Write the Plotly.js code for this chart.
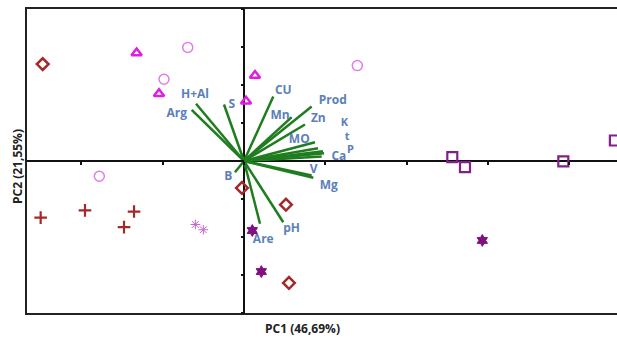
<!DOCTYPE html>
<html>
<head>
<meta charset="utf-8">
<script src="https://cdn.plot.ly/plotly-3.0.1.min.js"></script>
<style>html,body{margin:0;padding:0;background:#fff;}#chart{width:617px;height:341px;}</style>
</head>
<body>
<div id="chart"></div>
<script>
// ---- Data (PC1, PC2 scores) ----
const diamondX = [-2.475, -0.025, 0.516, 0.553];
const diamondY = [2.55, -0.71, -1.15, -3.21];
const triangleX = [-1.32, -1.045, 0.135, 0.025];
const triangleY = [2.84, 1.77, 2.25, 1.57];
const circleX = [-0.692, -0.984, 1.393, -1.779];
const circleY = [2.99, 2.15, 2.51, -0.40];
const plusX = [-2.50, -1.955, -1.352, -1.475];
const plusY = [-1.49, -1.30, -1.33, -1.74];
const asteriskX = [-0.598, -0.50];
const asteriskY = [-1.67, -1.81];
const starX = [0.102, 0.213, 2.93];
const starY = [-1.83, -2.91, -2.09];
const squareX = [2.561, 2.717, 3.926, 4.56];
const squareY = [0.10, -0.16, -0.01, 0.54];

// ---- Variable loadings (vectors) ----
const varNames = ["Arg", "H+Al", "S", "CU", "Mn", "Prod", "Zn", "MO", "K", "t", "P", "Ca", "V", "Mg", "B", "Are", "pH"];
const vecX = [-0.643, -0.590, -0.246, 0.360, 0.586, 0.832, 0.750, 0.873, 0.910, 0.971, 0.984, 0.955, 0.832, 0.852, -0.111, 0.197, 0.483];
const vecY = [1.347, 1.505, 1.487, 1.697, 1.153, 1.434, 0.961, 0.495, 0.337, 0.258, 0.205, 0.118, -0.382, -0.442, -0.295, -1.653, -1.611];
const labelX = [-0.827, -0.602, -0.151, 0.483, 0.443, 1.091, 0.914, 0.680, 1.236, 1.269, 1.309, 1.166, 0.857, 1.043, -0.193, 0.237, 0.586];
const labelY = [1.242, 1.724, 1.461, 1.855, 1.197, 1.592, 1.111, 0.558, 0.99, 0.63, 0.29, 0.118, -0.232, -0.645, -0.426, -2.074, -1.784];
const labelSize = [12, 12, 12, 12, 12, 12, 12, 12, 11, 11, 11, 12, 12, 12, 12, 12, 12];

const xTitle = "PC1 (46,69%)";
const yTitle = "PC2 (21,55%)";

const xRange = [-2.668, 4.586];
const yRange = [-4, 4];

// build vector line trace
const lx = [], ly = [];
for (let i = 0; i < vecX.length; i++) { lx.push(0, vecX[i], null); ly.push(0, vecY[i], null); }

function pts(x, y, symbol, color, size, lw) {
  return {x: x, y: y, type: 'scatter', mode: 'markers', hoverinfo: 'skip',
    marker: {symbol: symbol, size: size, color: color, line: {color: color, width: lw}}};
}

const traces = [
  {x: lx, y: ly, type: 'scatter', mode: 'lines', line: {color: '#1f7d1f', width: 2.5}, hoverinfo: 'skip'},
  {x: labelX, y: labelY, type: 'scatter', mode: 'text', text: varNames, textposition: 'middle center',
    textfont: {family: 'Open Sans, Liberation Sans, sans-serif', size: labelSize, color: '#5b80b8', weight: 'bold'}, hoverinfo: 'skip'},
  pts(diamondX, diamondY, 'diamond-open', '#a3282a', 9, 2.5),
  pts(triangleX, triangleY, 'triangle-up-open', '#e01ee0', 9, 2.5),
  pts(circleX, circleY, 'circle-open', '#e07ee8', 10, 1.5),
  pts(plusX, plusY, 'cross-thin-open', '#a3282a', 9, 2.2),
  pts(asteriskX, asteriskY, 'asterisk-open', '#c468c8', 8, 1),
  pts(starX, starY, 'hexagram', '#80107f', 9, 1),
  pts(squareX, squareY, 'square-open', '#82208a', 10, 2.2),
  // tick-carrying overlay (invisible)
  {x: [0], y: [0], xaxis: 'x2', yaxis: 'y2', type: 'scatter', mode: 'markers', marker: {opacity: 0}, hoverinfo: 'skip'}
];

const yPos = (0 - xRange[0]) / (xRange[1] - xRange[0]);

const layout = {
  width: 617, height: 341,
  margin: {l: 27, r: 0, t: 9, b: 28},
  paper_bgcolor: '#fff', plot_bgcolor: '#fff',
  showlegend: false,
  xaxis: {range: xRange, showgrid: false, showticklabels: false, ticks: '',
    showline: true, mirror: true, linecolor: '#222', linewidth: 2,
    zeroline: true, zerolinecolor: '#111', zerolinewidth: 2},
  yaxis: {range: yRange, showgrid: false, showticklabels: false, ticks: '',
    showline: true, mirror: true, linecolor: '#222', linewidth: 2,
    zeroline: true, zerolinecolor: '#111', zerolinewidth: 2},
  xaxis2: {range: xRange, overlaying: 'x', anchor: 'free', position: 0.5, side: 'bottom',
    showgrid: false, zeroline: false, showline: false, showticklabels: false,
    ticks: 'outside', ticklen: 3, tickwidth: 2, tickcolor: '#111', dtick: 1, tick0: 0},
  yaxis2: {range: yRange, overlaying: 'y', anchor: 'free', position: yPos, side: 'left',
    showgrid: false, zeroline: false, showline: false, showticklabels: false,
    ticks: 'outside', ticklen: 3, tickwidth: 2, tickcolor: '#111', dtick: 1, tick0: 0},
  annotations: [
    {text: xTitle, xref: 'paper', yref: 'paper', x: (302 - 27) / 590, y: -0.05, xanchor: 'center', yanchor: 'middle',
      showarrow: false, font: {family: 'Open Sans, Liberation Sans, sans-serif', size: 12, color: '#222', weight: 'bold'}},
    {text: yTitle, xref: 'paper', yref: 'paper', x: -0.017, y: (313 - 166) / 304, xanchor: 'center', yanchor: 'middle',
      textangle: -90, showarrow: false, font: {family: 'Open Sans, Liberation Sans, sans-serif', size: 12, color: '#222', weight: 'bold'}}
  ]
};

Plotly.newPlot('chart', traces, layout, {displayModeBar: false, staticPlot: true});
</script>
</body>
</html>
